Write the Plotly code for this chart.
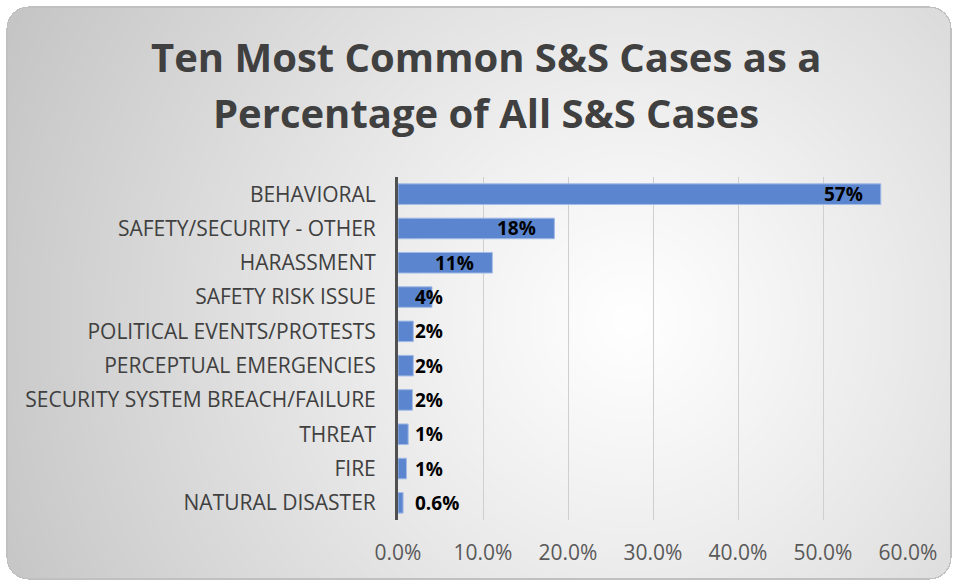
import base64
import struct
import zlib

import numpy as np
import plotly.graph_objects as go

# ---- data -------------------------------------------------------------
categories = [
    "BEHAVIORAL",
    "SAFETY/SECURITY - OTHER",
    "HARASSMENT",
    "SAFETY RISK ISSUE",
    "POLITICAL EVENTS/PROTESTS",
    "PERCEPTUAL EMERGENCIES",
    "SECURITY SYSTEM BREACH/FAILURE",
    "THREAT",
    "FIRE",
    "NATURAL DISASTER",
]
share_pct = [56.8, 18.4, 11.1, 4.0, 1.8, 1.8, 1.7, 1.2, 1.0, 0.6]
x_ticks = [0, 10, 20, 30, 40, 50, 60]
x_tick_labels = ["0.0%", "10.0%", "20.0%", "30.0%", "40.0%", "50.0%", "60.0%"]
title_lines = ["Ten Most Common S&S Cases as a", "Percentage of All S&S Cases"]

# ---- layout geometry -------------------------------------------------
W, H = 959, 582
M_L, M_R, M_T, M_B = 398, 51, 177, 62
PLOT_W = W - M_L - M_R
PLOT_H = H - M_T - M_B
X_MAX = 60


def fmt_label(v):
    return f"{v:.1f}%" if v < 1 else f"{v:.0f}%"


labels = [fmt_label(v) for v in share_pct]


# ---- chart-area background: rounded panel with a radial grey gradient --
def background_png():
    yy, xx = np.mgrid[0:H, 0:W].astype(float)
    cx, cy = 630.0, 320.0
    d = np.sqrt((xx - cx) ** 2 + (yy - cy) ** 2) / 690.0
    g = 255.0 - 58.0 * np.clip(d, 0, 1.1) ** 1.1
    # rounded rectangle mask
    x0, y0, x1, y1, r = 6.0, 6.0, 951.0, 579.0, 22.0
    qx = np.clip(xx, x0 + r, x1 - r)
    qy = np.clip(yy, y0 + r, y1 - r)
    dist = np.sqrt((xx - qx) ** 2 + (yy - qy) ** 2)
    inside = dist <= r
    edge = inside & (dist > r - 1.2)
    img = np.full((H, W), 255.0)
    img[inside] = g[inside]
    img[edge] = 192.0
    img = img.astype(np.uint8)
    rgb = np.repeat(img[:, :, None], 3, axis=2)
    raw = b"".join(b"\x00" + rgb[i].tobytes() for i in range(H))

    def chunk(tag, data):
        c = struct.pack(">I", len(data)) + tag + data
        return c + struct.pack(">I", zlib.crc32(tag + data) & 0xFFFFFFFF)

    png = b"\x89PNG\r\n\x1a\n"
    png += chunk(b"IHDR", struct.pack(">IIBBBBB", W, H, 8, 2, 0, 0, 0))
    png += chunk(b"IDAT", zlib.compress(raw, 9))
    png += chunk(b"IEND", b"")
    return "data:image/png;base64," + base64.b64encode(png).decode()


fig = go.Figure()
fig.add_trace(
    go.Bar(
        y=categories,
        x=share_pct,
        orientation="h",
        marker=dict(color="#5b86cf", line=dict(color="#a3bbe6", width=1)),
        hoverinfo="skip",
    )
)

# value labels: inside the bar end when they fit, otherwise just past the axis
px_per_unit = PLOT_W / X_MAX
annotations = []
for cat, v, lab in zip(categories, share_pct, labels):
    text_w = len(lab) * 11.5
    fits = v * px_per_unit - 16 - text_w >= 14
    annotations.append(
        dict(
            x=v if fits else 0,
            y=cat,
            xref="x",
            yref="y",
            text=f"<b>{lab}</b>",
            showarrow=False,
            xanchor="right" if fits else "left",
            xshift=-16 if fits else 15,
            font=dict(family="Open Sans", size=19, color="#000000"),
        )
    )

# two-line title
for line, yc in zip(title_lines, [56, 113]):
    annotations.append(
        dict(
            x=(486 - M_L) / PLOT_W,
            y=(H - M_B - yc) / PLOT_H,
            xref="paper",
            yref="paper",
            text=f"<b>{line}</b>",
            showarrow=False,
            xanchor="center",
            yanchor="middle",
            font=dict(family="Open Sans", size=40, color="#404040"),
        )
    )

fig.update_layout(
    width=W,
    height=H,
    margin=dict(l=M_L, r=M_R, t=M_T, b=M_B, pad=0),
    paper_bgcolor="rgba(0,0,0,0)",
    plot_bgcolor="rgba(0,0,0,0)",
    showlegend=False,
    bargap=0.4,
    annotations=annotations,
    images=[
        dict(
            source=background_png(),
            xref="paper",
            yref="paper",
            x=-M_L / PLOT_W,
            y=1 + M_T / PLOT_H,
            sizex=W / PLOT_W,
            sizey=H / PLOT_H,
            xanchor="left",
            yanchor="top",
            sizing="stretch",
            layer="below",
        )
    ],
    xaxis=dict(
        range=[0, X_MAX],
        tickvals=x_ticks,
        ticktext=x_tick_labels,
        showgrid=True,
        gridcolor="#cfcfcf",
        gridwidth=1,
        zeroline=False,
        showline=False,
        ticks="",
        ticklabelstandoff=18,
        tickfont=dict(family="Open Sans", size=21, color="#595959"),
        fixedrange=True,
    ),
    yaxis=dict(
        autorange="reversed",
        showgrid=False,
        zeroline=False,
        showline=True,
        linecolor="#505050",
        linewidth=3,
        ticks="",
        ticklabelstandoff=15,
        tickfont=dict(family="Open Sans", size=21, color="#404040"),
        fixedrange=True,
    ),
)

fig.write_html("out.html", config={"displayModeBar": False})
